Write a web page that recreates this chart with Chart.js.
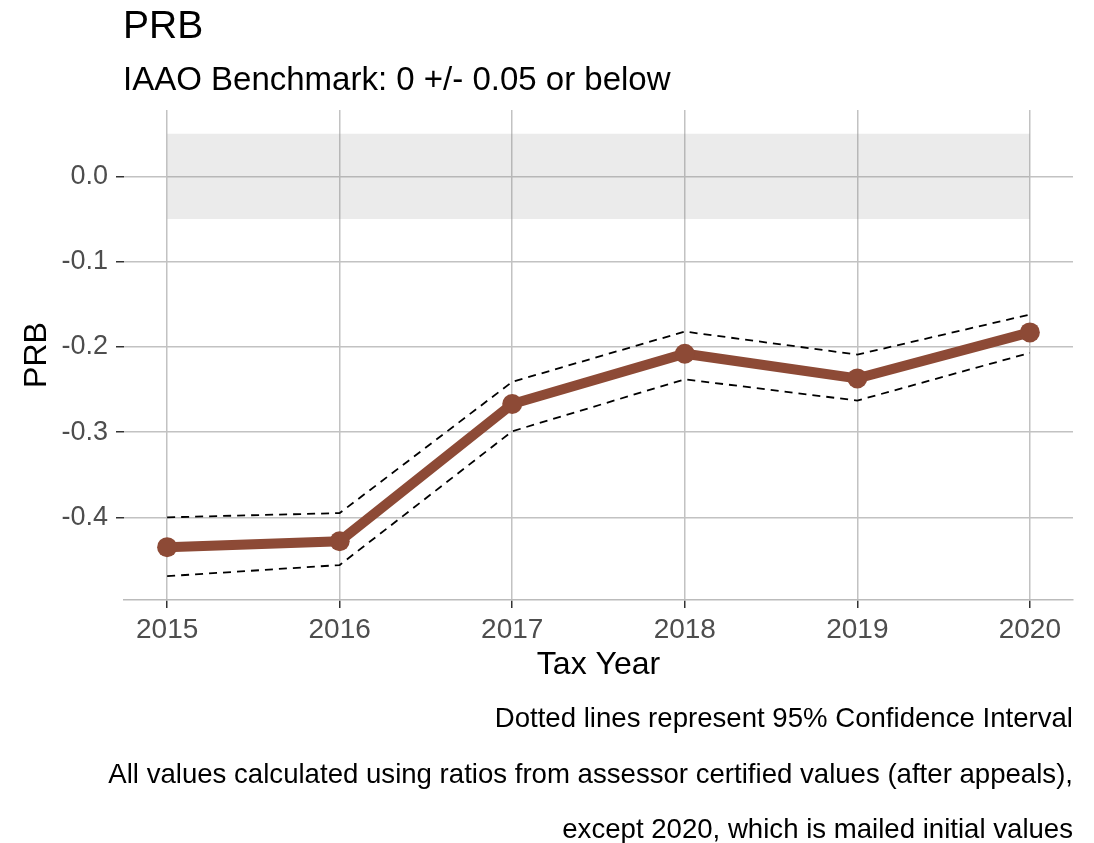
<!DOCTYPE html>
<html>
<head>
<meta charset="utf-8">
<script src="https://cdn.jsdelivr.net/npm/chart.js@4/dist/chart.umd.min.js"></script>
<style>
  html, body { margin: 0; padding: 0; background: #ffffff; }
  #wrap { width: 1094px; height: 843px; }
</style>
</head>
<body>
<div id="wrap"><canvas id="c" width="1094" height="843"></canvas></div>
<script>
// ---- data ----
const years = [2015, 2016, 2017, 2018, 2019, 2020];
const prb = [-0.435, -0.428, -0.267, -0.208, -0.237, -0.183];
const ciUpper = [-0.400, -0.395, -0.241, -0.182, -0.209, -0.162];
const ciLower = [-0.469, -0.456, -0.299, -0.238, -0.263, -0.207];
const benchmarkUpper = 0.05;
const benchmarkLower = -0.05;
const benchmarkYears = [2015, 2020];
const yTickValues = [-0.4, -0.3, -0.2, -0.1, 0.0];
const xTickValues = [2015, 2016, 2017, 2018, 2019, 2020];

const titleText = 'PRB';
const subtitleText = 'IAAO Benchmark: 0 +/- 0.05 or below';
const xTitle = 'Tax Year';
const yTitle = 'PRB';
const captionLines = [
  'Dotted lines represent 95% Confidence Interval',
  'All values calculated using ratios from assessor certified values (after appeals),',
  'except 2020, which is mailed initial values'
];

const FONT = '"Liberation Sans", Arial, sans-serif';

const pts = (xs, ys) => xs.map((x, i) => ({ x: x, y: ys[i] }));

const bgPlugin = {
  id: 'bg',
  beforeDraw(chart) {
    const ctx = chart.ctx;
    ctx.save();
    ctx.fillStyle = '#ffffff';
    ctx.fillRect(0, 0, chart.width, chart.height);
    ctx.restore();
  }
};

const textPlugin = {
  id: 'texts',
  afterDraw(chart) {
    const ctx = chart.ctx;
    const a = chart.chartArea;
    ctx.save();
    ctx.fillStyle = '#000000';
    ctx.textBaseline = 'alphabetic';
    ctx.textAlign = 'left';
    ctx.font = '39px ' + FONT;
    ctx.fillText(titleText, a.left - 1, 38);
    ctx.font = '33px ' + FONT;
    ctx.fillText(subtitleText, a.left - 1, 90);
    ctx.textAlign = 'right';
    ctx.font = '27.6px ' + FONT;
    const base = [727, 783, 838];
    captionLines.forEach((t, i) => ctx.fillText(t, a.right, base[i]));
    ctx.restore();
  }
};

new Chart(document.getElementById('c'), {
  type: 'line',
  data: {
    datasets: [
      {
        label: 'PRB',
        data: pts(years, prb),
        borderColor: '#8D4A36',
        backgroundColor: '#8D4A36',
        borderWidth: 10,
        pointRadius: 10,
        pointHoverRadius: 10,
        pointBorderWidth: 0,
        fill: false,
        tension: 0
      },
      {
        label: 'CI upper',
        data: pts(years, ciUpper),
        borderColor: '#000000',
        borderWidth: 1.8,
        borderDash: [8, 6],
        pointRadius: 0,
        fill: false,
        tension: 0
      },
      {
        label: 'CI lower',
        data: pts(years, ciLower),
        borderColor: '#000000',
        borderWidth: 1.8,
        borderDash: [8, 6],
        pointRadius: 0,
        fill: false,
        tension: 0
      },
      {
        label: 'Benchmark upper',
        data: pts(benchmarkYears, [benchmarkUpper, benchmarkUpper]),
        borderWidth: 0,
        borderColor: 'rgba(0,0,0,0)',
        pointRadius: 0,
        fill: false
      },
      {
        label: 'Benchmark lower',
        data: pts(benchmarkYears, [benchmarkLower, benchmarkLower]),
        borderWidth: 0,
        borderColor: 'rgba(0,0,0,0)',
        backgroundColor: 'rgba(128,128,128,0.16)',
        pointRadius: 0,
        fill: '-1'
      }
    ]
  },
  options: {
    responsive: false,
    animation: false,
    events: [],
    layout: { padding: { left: 0, right: 21, top: 110, bottom: 157 } },
    plugins: {
      legend: { display: false },
      tooltip: { enabled: false },
      title: { display: false }
    },
    scales: {
      x: {
        type: 'linear',
        min: 2014.75,
        max: 2020.25,
        afterBuildTicks(scale) { scale.ticks = xTickValues.map(v => ({ value: v })); },
        afterFit(scale) { scale.height = 86; },
        ticks: {
          color: '#4D4D4D',
          font: { family: FONT, size: 28 },
          padding: 5,
          maxRotation: 0,
          callback: v => String(v)
        },
        grid: {
          color: '#C2C2C2',
          lineWidth: 1.5,
          drawTicks: true,
          tickLength: 8,
          tickColor: '#333333',
          tickWidth: 1.5
        },
        border: { display: true, color: '#BBBBBB', width: 1.5 },
        title: {
          display: true,
          text: xTitle,
          color: '#000000',
          font: { family: FONT, size: 32 },
          padding: { top: 0, bottom: 2 }
        }
      },
      y: {
        type: 'linear',
        min: -0.497,
        max: 0.078,
        afterBuildTicks(scale) { scale.ticks = yTickValues.map(v => ({ value: v })); },
        afterFit(scale) { scale.width = 124; },
        ticks: {
          color: '#4D4D4D',
          font: { family: FONT, size: 27 },
          padding: 8,
          callback: v => Number(v).toFixed(1)
        },
        grid: {
          color: '#C2C2C2',
          lineWidth: 1.5,
          drawTicks: true,
          tickLength: 8,
          tickColor: '#333333',
          tickWidth: 1.5
        },
        border: { display: false },
        title: {
          display: true,
          text: yTitle,
          color: '#000000',
          font: { family: FONT, size: 32 },
          padding: { top: 18, bottom: 0 }
        }
      }
    }
  },
  plugins: [bgPlugin, textPlugin]
});
</script>
</body>
</html>
